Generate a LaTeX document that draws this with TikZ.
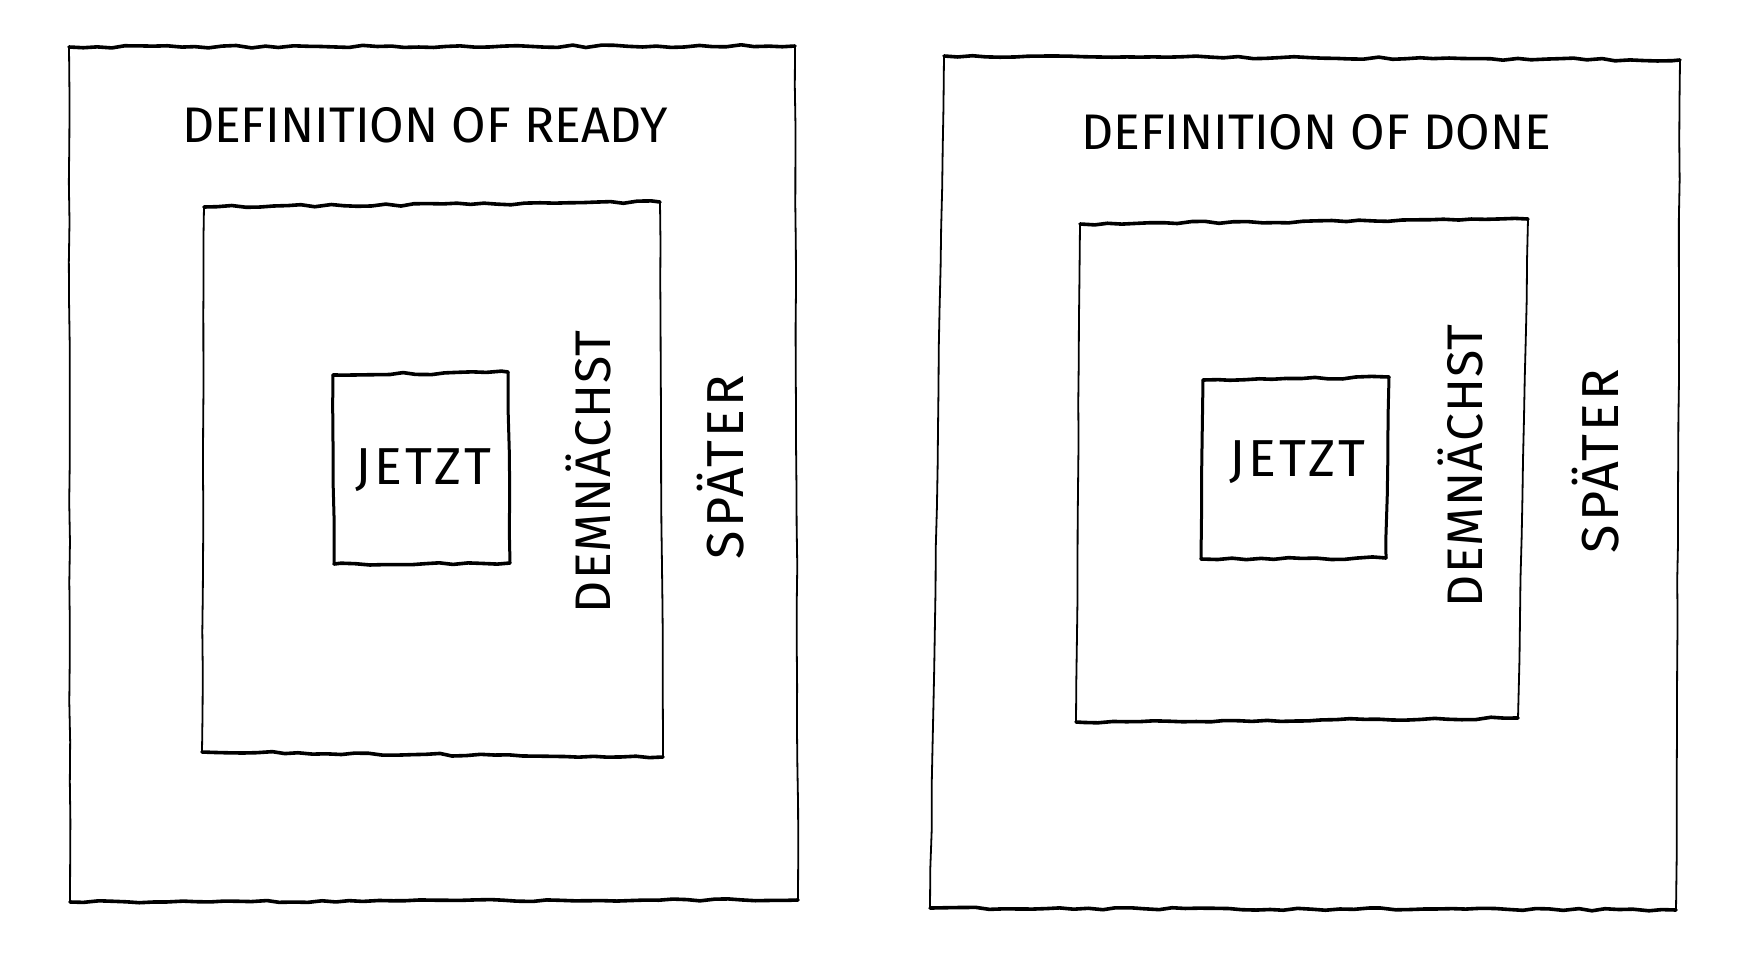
\documentclass[tikz,border=0pt]{standalone}
\usepackage{fontspec}
\setmainfont{Fira Sans}
\usetikzlibrary{decorations.pathmorphing}

\tikzset{
  wobble/.style={decorate, decoration={random steps, segment length=14pt, amplitude=1.3pt},
                 line join=round, line cap=round},
  edgeh/.style={wobble, line width=3.6pt},
  edgev/.style={wobble, decoration={random steps, segment length=40pt, amplitude=0.5pt}},
  handtext/.style={font=\fontsize{50}{54}\selectfont, inner sep=0pt},
  soontext/.style={font=\fontsize{50}{54}\selectfont\addfontfeature{LetterSpace=2}, inner sep=0pt, rotate=90},
  widetext/.style={font=\fontsize{52}{56}\selectfont\addfontfeature{LetterSpace=6}, inner sep=0pt},
}

\begin{document}
\begin{tikzpicture}[x=1pt, y=-1pt]
    \pgfmathsetseed{42}
    \useasboundingbox[fill=white] (0,0) rectangle (1757,964);

    %% boxes: top left / top right / bottom right / bottom left / side width
    \foreach \ax/\ay/\bx/\by/\cx/\cy/\dx/\dy/\sw in {
            69/47/795/46/798/900/70/902/1.8,
            204/207/660/202/663/757/202/752/1.8,
            333/375/508/372/510/563/334/564/3.0,
            944/56/1680/60/1676/910/930/908/1.8,
            1080/224/1528/219/1518/718/1076/722/1.8,
            1203/380/1389/377/1386/558/1201/559/3.0} {
            \draw[edgeh] (\ax,\ay) -- (\bx,\by);
            \draw[edgev, line width=\sw pt] (\bx,\by) -- (\cx,\cy);
            \draw[edgeh] (\cx,\cy) -- (\dx,\dy);
            \draw[edgev, line width=\sw pt] (\dx,\dy) -- (\ax,\ay);
        }

    % left frame
    \node[handtext] (readytitle) at (425,125) {DEFINITION OF READY};
    \node[widetext] (nowready) at (423,470) {JETZT};
    \node[soontext] (soonready) at (588,472) {DEMNÄCHST};
    \node[widetext, rotate=90] (laterready) at (721,467) {SPÄTER};

    % right frame
    \node[handtext] (donetitle) at (1316,132) {DEFINITION OF DONE};
    \node[widetext] (nowdone) at (1297,462) {JETZT};
    \node[soontext] (soondone) at (1460,466) {DEMNÄCHST};
    \node[widetext, rotate=90] (laterdone) at (1596,461) {SPÄTER};
\end{tikzpicture}
\end{document}
